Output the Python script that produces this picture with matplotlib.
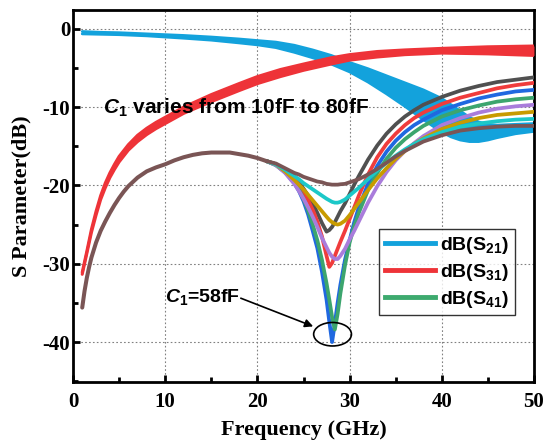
import matplotlib
matplotlib.use("Agg")
import matplotlib.pyplot as plt
from matplotlib.lines import Line2D
from matplotlib.patches import Ellipse
from matplotlib.ticker import MultipleLocator

plt.rcParams['axes.unicode_minus'] = False
plt.rcParams['mathtext.fontset'] = 'custom'
plt.rcParams['mathtext.rm'] = 'Liberation Sans:bold'
plt.rcParams['mathtext.it'] = 'Liberation Sans:italic:bold'
plt.rcParams['mathtext.bf'] = 'Liberation Sans:bold'

# S21 band (C1 = 10..80 fF), upper / lower envelope
s21_x = [1, 3, 5, 8, 10, 12, 15, 18, 20, 22, 24, 26, 28, 30, 32, 34, 36, 38, 40, 41,
         42, 43, 44, 45, 46, 48, 50]
s21_hi = [-0.35, -0.45, -0.5, -0.65, -0.75, -0.85, -1.05, -1.3, -1.5, -1.7, -2.1, -2.7,
          -3.4, -4.3, -5.1, -6.0, -6.9, -7.8, -8.9, -9.7, -10.5, -11.3, -11.9, -12.2,
          -12.3, -12.2, -12.1]
s21_lo = [-0.65, -0.7, -0.75, -0.9, -1.05, -1.2, -1.45, -1.8, -2.05, -2.4, -3.0, -3.7,
          -4.5, -5.5, -6.8, -8.3, -9.9, -11.6, -13.2, -13.8, -14.2, -14.4, -14.4, -14.2,
          -13.9, -13.4, -13.1]

# S31 band, upper / lower envelope
s31_x = [1, 1.5, 2, 2.5, 3, 3.5, 4, 4.5, 5, 6, 7, 8, 9, 10, 12, 15, 18, 20, 22.5, 25,
         28, 30, 33, 36, 40, 45, 50]
s31_hi = [-31.1, -28.4, -25.6, -23.3, -21.3, -19.7, -18.4, -17.3, -16.3, -14.8, -13.6,
          -12.7, -11.95, -11.3, -10.0, -8.4, -7.0, -6.1, -5.2, -4.5, -3.7, -3.3, -2.9,
          -2.7, -2.5, -2.3, -2.2]
s31_lo = [-31.35, -28.7, -26.0, -23.8, -21.8, -20.3, -19.0, -17.95, -17.0, -15.5, -14.4,
          -13.5, -12.75, -12.1, -10.8, -9.3, -7.9, -7.0, -6.1, -5.3, -4.5, -4.0, -3.6,
          -3.3, -3.1, -3.2, -3.4]

# S41: shared low-frequency part, then one curve per C1 value
s41_common_x = [1, 1.25, 1.5, 1.75, 2, 2.5, 3, 3.5, 4, 4.5, 5, 5.5, 6, 7, 8, 9, 10, 11,
                12, 13, 14, 15, 16, 17, 18, 19, 20, 21]
s41_common_y = [-35.6, -33.5, -31.8, -30.4, -29.2, -27.3, -25.8, -24.6, -23.5, -22.5,
                -21.6, -20.8, -20.1, -19.0, -18.2, -17.7, -17.3, -16.8, -16.4, -16.1,
                -15.9, -15.8, -15.8, -15.8, -16.0, -16.2, -16.5, -16.9]
s41_x = [21, 22, 23, 24, 24.5, 25, 25.5, 26, 26.5, 27, 27.5, 27.8, 28.1, 28.4, 28.7, 29,
         29.5, 30, 30.5, 31, 32, 33, 34, 35, 36, 37, 38, 40, 42, 44, 46, 48, 50]
s41_gray = [-16.9, -17.3, -18.0, -19.0, -19.6, -20.4, -21.3, -22.3, -23.5, -24.8, -25.9,
            -25.7, -25.3, -24.7, -24.0, -23.3, -22.3, -21.1, -19.9, -18.8, -16.7, -14.9,
            -13.4, -12.2, -11.2, -10.4, -9.7, -8.7, -7.9, -7.3, -6.8, -6.5, -6.2]
s41_red = [-16.9, -17.3, -18.1, -19.2, -19.9, -20.8, -21.9, -23.1, -24.6, -26.5, -29.0,
           -30.4, -29.9, -29.0, -28.1, -27.2, -25.8, -24.3, -22.8, -21.3, -18.6, -16.4,
           -14.7, -13.4, -12.3, -11.4, -10.7, -9.6, -8.8, -8.2, -7.6, -7.2, -6.9]
s41_blue = [-16.9, -17.4, -18.3, -19.7, -20.7, -22.0, -23.7, -25.8, -28.0, -31.0, -34.6,
            -37.4, -40.0, -37.6, -35.0, -32.7, -29.5, -27.0, -24.7, -22.8, -19.8, -17.5,
            -15.7, -14.3, -13.2, -12.3, -11.6, -10.4, -9.6, -8.9, -8.4, -8.0, -7.8]
s41_green = [-16.9, -17.4, -18.3, -19.6, -20.5, -21.7, -23.2, -25.0, -27.0, -29.5, -32.5,
             -34.6, -36.8, -38.4, -36.4, -33.8, -30.2, -27.3, -25.2, -23.5, -20.6, -18.4,
             -16.6, -15.2, -14.1, -13.2, -12.4, -11.2, -10.4, -9.8, -9.3, -9.0, -8.8]
s41_purple = [-16.9, -17.4, -18.4, -19.8, -20.7, -21.7, -22.8, -24.0, -25.3, -26.7, -27.9,
              -28.6, -29.1, -29.4, -29.4, -29.0, -28.1, -26.9, -25.8, -24.6, -22.2, -20.1,
              -18.3, -16.8, -15.6, -14.6, -13.7, -12.3, -11.4, -10.7, -10.2, -9.9, -9.7]
s41_gold = [-16.9, -17.3, -18.2, -19.3, -19.9, -20.5, -21.2, -21.9, -22.6, -23.3, -24.0,
            -24.4, -24.7, -24.9, -25.0, -24.9, -24.5, -23.8, -23.0, -22.2, -20.6, -19.1,
            -17.8, -16.6, -15.6, -14.7, -14.0, -12.8, -12.0, -11.4, -11.0, -10.8, -10.6]
s41_cyan = [-16.9, -17.3, -18.0, -18.8, -19.2, -19.7, -20.1, -20.5, -20.9, -21.3, -21.7,
            -21.9, -22.1, -22.2, -22.2, -22.1, -21.8, -21.3, -20.8, -20.3, -19.2, -18.1,
            -17.1, -16.2, -15.4, -14.7, -14.1, -13.2, -12.5, -12.1, -11.8, -11.6, -11.5]
s41_brown = [-16.9, -17.2, -17.8, -18.4, -18.6, -18.9, -19.1, -19.3, -19.5, -19.6, -19.8,
             -19.85, -19.9, -19.9, -19.9, -19.85, -19.8, -19.6, -19.4, -19.2, -18.6, -17.9,
             -17.1, -16.3, -15.6, -15.0, -14.4, -13.6, -13.0, -12.7, -12.5, -12.4, -12.4]

s41_curves = [s41_gray, s41_red, s41_blue, s41_green, s41_purple, s41_gold, s41_cyan, s41_brown]
s41_colors = ['#505050', '#F03C3C', '#2068E0', '#3CA56E', '#A97CDB', '#C89B00', '#1CC8C8', '#7A5555']

c_s21 = '#13A2DC'
c_s31 = '#EE3338'
c_s41 = '#3DAA6E'

fig = plt.figure(figsize=(5.43, 4.47), dpi=100)
ax = fig.add_axes([73 / 543, 1 - 382 / 447, (534 - 73) / 543, (382 - 10) / 447])

# S21 band
ax.fill_between(s21_x, s21_lo, s21_hi, color=c_s21, lw=0, zorder=2)
ax.plot(s21_x, s21_hi, color=c_s21, lw=2.0, solid_capstyle='round', zorder=2)
ax.plot(s21_x, s21_lo, color=c_s21, lw=2.0, solid_capstyle='round', zorder=2)

# S31 band
ax.fill_between(s31_x, s31_lo, s31_hi, color=c_s31, lw=0, zorder=3)
ax.plot(s31_x, s31_hi, color=c_s31, lw=2.2, solid_capstyle='round', zorder=3)
ax.plot(s31_x, s31_lo, color=c_s31, lw=2.2, solid_capstyle='round', zorder=3)

# S41 curves
for ys, col in zip(s41_curves, s41_colors):
    ax.plot(s41_x, ys, color=col, lw=2.7, solid_capstyle='round', zorder=4)
ax.plot(s41_common_x, s41_common_y, color=s41_colors[-1], lw=2.9,
        solid_capstyle='round', zorder=5)

ax.set_xlim(0, 50)
ax.set_ylim(-45.1, 2.4)
ax.xaxis.set_major_locator(MultipleLocator(10))
ax.xaxis.set_minor_locator(MultipleLocator(5))
ax.yaxis.set_major_locator(MultipleLocator(10))
ax.yaxis.set_minor_locator(MultipleLocator(5))
ax.grid(True, which='major', color='#808080', ls=(0, (1.5, 2)), lw=0.8)
ax.set_axisbelow(True)

for s in ax.spines.values():
    s.set_linewidth(2.0)
ax.tick_params(which='major', direction='in', length=5, width=2, top=False, right=False)
ax.tick_params(which='minor', direction='in', length=3.5, width=2, top=False, right=False)
for lab in ax.get_xticklabels() + ax.get_yticklabels():
    lab.set_fontfamily('Liberation Serif')
    lab.set_fontweight('bold')
    lab.set_fontsize(15)
ax.tick_params(axis='x', pad=7)
ax.tick_params(axis='y', pad=2)

ax.set_xlabel('Frequency (GHz)', fontfamily='Liberation Serif', fontweight='bold',
              fontsize=16, labelpad=6)
ax.set_ylabel('S Parameter(dB)', fontfamily='Liberation Serif', fontweight='bold',
              fontsize=16, labelpad=8)

ax.text(3.2, -10.1, r'$C_1$ varies from 10fF to 80fF', fontfamily='Liberation Sans',
        fontweight='bold', fontsize=15, va='center', ha='left', zorder=6)

# annotation of the deepest notch
ax.add_patch(Ellipse((28.15, -39.0), 4.1, 3.0, fill=False, ec='black', lw=1.2, zorder=6))
ax.annotate('', xy=(26.05, -38.0), xytext=(18.2, -34.4),
            arrowprops=dict(arrowstyle='-|>', color='black', lw=1.2,
                            mutation_scale=12, shrinkA=0, shrinkB=0), zorder=6)
ax.text(10.0, -34.2, r'$C_1$=58fF', fontfamily='Liberation Sans', fontweight='bold',
        fontsize=14, va='center', ha='left', zorder=6)

handles = [Line2D([], [], color=c_s21, lw=3.5),
           Line2D([], [], color=c_s31, lw=3.5),
           Line2D([], [], color=c_s41, lw=3.5)]
leg = ax.legend(handles, [r'dB(S$_{21}$)', r'dB(S$_{31}$)', r'dB(S$_{41}$)'],
                loc='upper left', bbox_to_anchor=(0.664, 0.411), frameon=True,
                fancybox=False, edgecolor='black', handlelength=2.6, handletextpad=0.25,
                borderpad=0.3, labelspacing=0.3, borderaxespad=0,
                prop={'family': 'Liberation Sans', 'weight': 'bold', 'size': 14})
leg.get_frame().set_linewidth(1.0)
leg.set_zorder(7)

fig.savefig('out.png', dpi=100)
